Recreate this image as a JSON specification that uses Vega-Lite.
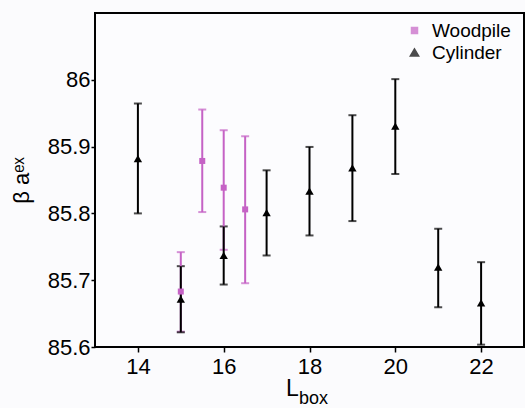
{
  "$schema": "https://vega.github.io/schema/vega-lite/v6.json",
  "autosize": "none",
  "width": 429,
  "height": 334,
  "padding": {"left": 95, "top": 13, "right": 1, "bottom": 61},
  "background": "#fbfbfd",
  "title": {"text": "box", "orient": "bottom", "anchor": "middle", "fontSize": 18, "fontWeight": "normal", "font": "Liberation Sans", "color": "black", "dx": 4, "dy": -14},
  "config": {
    "view": {"stroke": "black", "strokeWidth": 2, "fill": "#fcfcfe"},
    "axis": {"labelFont": "Liberation Sans", "titleFont": "Liberation Sans", "labelColor": "black", "titleColor": "black", "grid": false, "domain": false, "tickColor": "black", "tickWidth": 1.5, "labelFontSize": 22, "titleFontWeight": "normal"},
    "legend": {"labelFont": "Liberation Sans", "labelFontSize": 19, "labelColor": "black", "title": null, "orient": "none", "legendX": 310, "legendY": 8, "rowPadding": 2, "labelOffset": 8, "padding": 0}
  },
  "data": {"values": [
    {"L": 15, "series": "Woodpile", "beta": 85.683, "lo": 85.623, "hi": 85.742},
    {"L": 15.5, "series": "Woodpile", "beta": 85.8785, "lo": 85.802, "hi": 85.9555},
    {"L": 16, "series": "Woodpile", "beta": 85.8385, "lo": 85.7455, "hi": 85.9245},
    {"L": 16.5, "series": "Woodpile", "beta": 85.806, "lo": 85.6955, "hi": 85.9155},
    {"L": 14, "series": "Cylinder", "beta": 85.882, "lo": 85.8, "hi": 85.9645},
    {"L": 15, "series": "Cylinder", "beta": 85.6715, "lo": 85.622, "hi": 85.721},
    {"L": 16, "series": "Cylinder", "beta": 85.737, "lo": 85.6935, "hi": 85.7805},
    {"L": 17, "series": "Cylinder", "beta": 85.801, "lo": 85.737, "hi": 85.8645},
    {"L": 18, "series": "Cylinder", "beta": 85.8335, "lo": 85.767, "hi": 85.8995},
    {"L": 19, "series": "Cylinder", "beta": 85.868, "lo": 85.7885, "hi": 85.947},
    {"L": 20, "series": "Cylinder", "beta": 85.9305, "lo": 85.859, "hi": 86.001},
    {"L": 21, "series": "Cylinder", "beta": 85.7195, "lo": 85.6595, "hi": 85.777},
    {"L": 22, "series": "Cylinder", "beta": 85.666, "lo": 85.6035, "hi": 85.727}
  ]},
  "encoding": {
    "x": {"field": "L", "type": "quantitative", "scale": {"domain": [13, 23], "nice": false, "zero": false},
      "axis": {"values": [14, 16, 18, 20, 22], "title": "L", "titleFontSize": 23, "titleX": 197, "titlePadding": 0, "tickSize": 5, "labelPadding": 4}},
    "color": {"field": "series", "type": "nominal", "scale": {"domain": ["Woodpile", "Cylinder"], "range": ["#c562c5", "#000000"]}}
  },
  "layer": [
    {
      "mark": {"type": "errorbar", "ticks": {"size": 8, "thickness": 2}, "thickness": 2},
      "encoding": {
        "y": {"field": "lo", "type": "quantitative", "scale": {"domain": [85.6, 86.1], "nice": false, "zero": false},
          "axis": {"values": [85.6, 85.7, 85.8, 85.9, 86.0], "format": ".1~f", "title": "β aᵉˣ", "titleFontSize": 22, "titlePadding": 14, "tickSize": 4, "labelPadding": 1}},
        "y2": {"field": "hi"}
      }
    },
    {
      "mark": {"type": "point", "filled": true, "opacity": 1},
      "encoding": {
        "y": {"field": "beta", "type": "quantitative"},
        "shape": {"field": "series", "type": "nominal", "scale": {"domain": ["Woodpile", "Cylinder"], "range": ["square", "triangle-up"]}},
        "size": {"field": "series", "type": "nominal", "scale": {"domain": ["Woodpile", "Cylinder"], "range": [36, 70]}}
      }
    }
  ]
}
